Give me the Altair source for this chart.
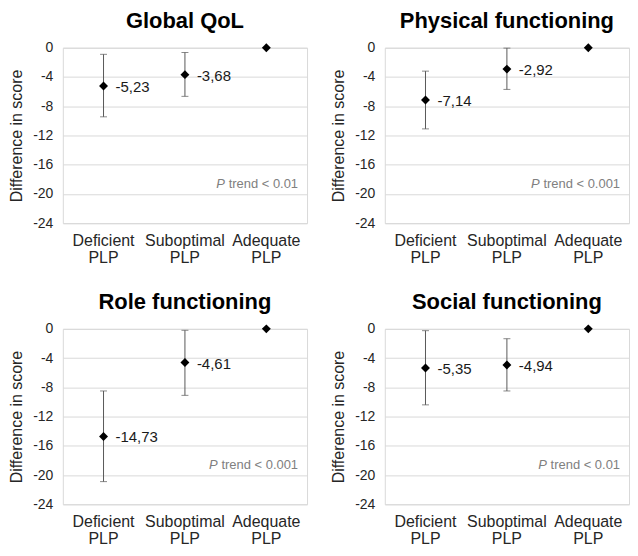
import altair as alt
import pandas as pd

categories = ["Deficient PLP", "Suboptimal PLP", "Adequate PLP"]

global_est = [-5.23, -3.68, 0.0]
global_lo = [-9.45, -6.65, None]
global_hi = [-0.9, -0.65, None]

physical_est = [-7.14, -2.92, 0.0]
physical_lo = [-11.1, -5.7, None]
physical_hi = [-3.2, -0.05, None]

role_est = [-14.73, -4.61, 0.0]
role_lo = [-20.9, -9.1, None]
role_hi = [-8.5, -0.2, None]

social_est = [-5.35, -4.94, 0.0]
social_lo = [-10.4, -8.5, None]
social_hi = [-0.25, -1.35, None]

titles = ["Global QoL", "Physical functioning", "Role functioning", "Social functioning"]
ptrend = ["trend < 0.01", "trend < 0.001", "trend < 0.001", "trend < 0.01"]
ptrend_y = -18.6
y_ticks = [0, -4, -8, -12, -16, -20, -24]

FONT = "Liberation Sans"
W, H = 245, 176
P_SIZE = 13

# approximate Arial/Liberation Sans advance widths (em)
CW = {"t": .278, "r": .333, "e": .556, "n": .556, "d": .556, " ": .278,
      "<": .584, "0": .556, ".": .278, "1": .556}


def text_w(s, size):
    return sum(CW.get(c, .556) for c in s) * size


def y_enc(field):
    return alt.Y(
        f"{field}:Q",
        scale=alt.Scale(domain=[-24, 0], nice=False, zero=False),
        axis=alt.Axis(
            values=y_ticks, title="Difference in score", labelExpr="datum.value + ''",
            grid=True, gridColor="#d9d9d9", domain=False, ticks=False,
            labelFontSize=14, labelPadding=10, labelColor="#262626",
            titleFontSize=16, titleFontWeight="normal", titleColor="#262626",
            titlePadding=8,
        ),
    )


x_enc = alt.X(
    "cat:N", sort=categories,
    axis=alt.Axis(
        title=None, labelExpr="split(datum.label, ' ')", labelAngle=0,
        ticks=False, domain=False, grid=False, labelFontSize=16,
        labelPadding=9, labelColor="#262626", labelLineHeight=17,
    ),
)


def panel(title, est, lo, hi, ptxt):
    df = pd.DataFrame({"cat": categories, "est": est, "lo": lo, "hi": hi})
    base = alt.Chart(df)
    valid = base.transform_filter("isValid(datum.lo)")
    rule = valid.mark_rule(color="#595959", strokeWidth=1).encode(
        x=x_enc, y=y_enc("lo"), y2="hi:Q")
    cap_lo = valid.mark_tick(color="#595959", size=7, thickness=1).encode(
        x=x_enc, y=y_enc("lo"))
    cap_hi = valid.mark_tick(color="#595959", size=7, thickness=1).encode(
        x=x_enc, y=y_enc("hi"))
    pts = base.mark_point(shape="diamond", filled=True, color="black", size=80,
                          opacity=1).encode(x=x_enc, y=y_enc("est"))
    lbl = base.transform_filter("datum.est != 0").transform_calculate(
        lbl="(datum.est < 0 ? '-' : '') + replace(format(abs(datum.est), '.2f'), '.', ',')"
    ).mark_text(align="left", baseline="middle", dx=12, dy=1, fontSize=15,
                color="#1a1a1a").encode(x=x_enc, y=y_enc("est"), text="lbl:N")

    pdf = pd.DataFrame({"cat": [categories[-1]], "py": [ptrend_y], "t": [ptxt], "p": ["P"]})
    dx_right = W / 6 - 9
    pbase = alt.Chart(pdf)
    ptxt_mark = pbase.mark_text(align="right", baseline="middle", dx=dx_right,
                                fontSize=P_SIZE, color="#808080").encode(
        x=x_enc, y=y_enc("py"), text="t:N")
    pmark = pbase.mark_text(align="right", baseline="middle",
                            dx=dx_right - text_w(" " + ptxt, P_SIZE),
                            fontSize=P_SIZE, fontStyle="italic",
                            color="#808080").encode(
        x=x_enc, y=y_enc("py"), text="p:N")

    return alt.layer(rule, cap_lo, cap_hi, pts, lbl, ptxt_mark, pmark).properties(
        width=W, height=H,
        title=alt.TitleParams(title, fontSize=22, fontWeight="bold", font=FONT,
                              color="black", anchor="middle", offset=8),
    )


panels = [
    panel(titles[0], global_est, global_lo, global_hi, ptrend[0]),
    panel(titles[1], physical_est, physical_lo, physical_hi, ptrend[1]),
    panel(titles[2], role_est, role_lo, role_hi, ptrend[2]),
    panel(titles[3], social_est, social_lo, social_hi, ptrend[3]),
]

chart = alt.vconcat(
    alt.hconcat(panels[0], panels[1], spacing=22),
    alt.hconcat(panels[2], panels[3], spacing=22),
    spacing=24,
).properties(
    padding={"left": 0, "top": 0, "right": 0, "bottom": 0}
).configure(font=FONT).configure_view(stroke="#d9d9d9", strokeWidth=1)

chart.save("out.html", embed_options={"renderer": "svg", "actions": False})
